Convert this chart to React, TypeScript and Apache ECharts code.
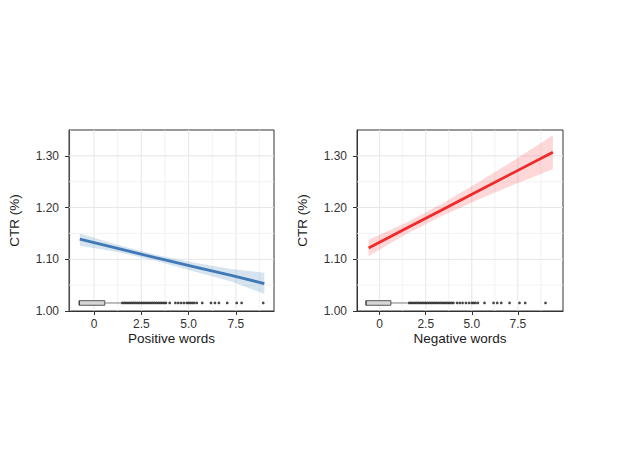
import React, { useEffect, useRef } from "react";
import * as echarts from "echarts";

// ---- Data ----
const posX = [-0.75, 1.25, 3.25, 5.25, 7.25, 9.0];
const posFit = [1.139, 1.121, 1.103, 1.086, 1.069, 1.053];
const posUpper = [1.150, 1.128, 1.109, 1.094, 1.081, 1.074];
const posLower = [1.126, 1.114, 1.097, 1.077, 1.057, 1.033];

const negX = [-0.6, 1.4, 3.4, 5.4, 7.4, 9.4];
const negFit = [1.122, 1.159, 1.196, 1.233, 1.270, 1.307];
const negUpper = [1.138, 1.170, 1.208, 1.250, 1.294, 1.340];
const negLower = [1.106, 1.148, 1.184, 1.216, 1.246, 1.274];

// boxplot summaries: [min, q1, median, q3, upper whisker]
const posBox = [-0.78, -0.78, -0.78, 0.57, 1.46];
const negBox = [-0.74, -0.74, -0.74, 0.61, 1.52];

const posOutliers = [
  1.5, 1.6, 1.7, 1.8, 1.9, 2.0, 2.1, 2.2, 2.3, 2.4, 2.5, 2.6, 2.7, 2.8, 2.9, 3.0,
  3.1, 3.2, 3.3, 3.4, 3.5, 3.6, 3.7, 3.8, 4.0, 4.3, 4.45, 4.6, 4.75, 4.9, 5.0,
  5.1, 5.2, 5.3, 5.43, 5.72, 6.18, 6.39, 6.6, 7.04, 7.54, 7.8, 8.94,
];
const negOutliers = [
  1.6, 1.7, 1.8, 1.9, 2.0, 2.1, 2.2, 2.3, 2.4, 2.5, 2.6, 2.7, 2.8, 2.9, 3.0, 3.1,
  3.2, 3.3, 3.4, 3.5, 3.6, 3.7, 3.8, 3.9, 4.0, 4.2, 4.35, 4.5, 4.68, 4.85, 5.0,
  5.1, 5.2, 5.33, 5.69, 6.18, 6.38, 6.6, 7.05, 7.59, 7.9, 9.0,
];
const boxY = 1.0155;

const xTickValues = [0, 2.5, 5, 7.5];
const yTickValues = [1.0, 1.1, 1.2, 1.3];
const xGridValues = [-1.25, 0, 1.25, 2.5, 3.75, 5, 6.25, 7.5, 8.75];
const yGridValues = [1.05, 1.1, 1.15, 1.2, 1.25, 1.3];

const posRange = [-1.32, 9.51];
const negRange = [-1.23, 9.95];
const yRange = [1.0, 1.35];

const xNames = ["Positive words", "Negative words"];
const yName = "CTR (%)";

const FONT = "'Liberation Sans', Arial, sans-serif";

function panel(idx: number, xs: number[], fit: number[], up: number[], lo: number[], box: number[], outl: number[], range: number[], color: string, band: string) {
  const base = { xAxisIndex: idx, yAxisIndex: idx };
  const vGrid = xGridValues.filter((v) => v > range[0] && v < range[1]);
  return [
    {
      ...base,
      type: "custom",
      z: 1,
      silent: true,
      data: vGrid.map((v) => [v]),
      renderItem: (params: any, api: any) => {
        const cs = params.coordSys;
        const x = api.coord([api.value(0), yRange[0]])[0];
        const major = xTickValues.indexOf(api.value(0)) >= 0;
        return {
          type: "line",
          shape: { x1: x, y1: cs.y, x2: x, y2: cs.y + cs.height },
          style: { stroke: major ? "#e6e6e6" : "#efefef", lineWidth: major ? 1 : 0.8 },
        };
      },
    },
    {
      ...base,
      type: "custom",
      z: 1,
      silent: true,
      data: yGridValues.map((v) => [v]),
      renderItem: (params: any, api: any) => {
        const cs = params.coordSys;
        const y = api.coord([range[0], api.value(0)])[1];
        const major = yTickValues.some((t) => Math.abs(t - api.value(0)) < 1e-6);
        return {
          type: "line",
          shape: { x1: cs.x, y1: y, x2: cs.x + cs.width, y2: y },
          style: { stroke: major ? "#e6e6e6" : "#efefef", lineWidth: major ? 1 : 0.8 },
        };
      },
    },
    {
      ...base,
      type: "custom",
      z: 2,
      silent: true,
      data: [[0]],
      renderItem: (params: any, api: any) => {
        const pts: number[][] = [];
        xs.forEach((x, i) => pts.push(api.coord([x, up[i]])));
        for (let i = xs.length - 1; i >= 0; i--) pts.push(api.coord([xs[i], lo[i]]));
        return { type: "polygon", shape: { points: pts }, style: { fill: band } };
      },
    },
    {
      ...base,
      type: "line",
      z: 3,
      silent: true,
      showSymbol: false,
      data: xs.map((x, i) => [x, fit[i]]),
      lineStyle: { color, width: 2.8 },
      itemStyle: { color },
    },
    {
      ...base,
      type: "custom",
      z: 4,
      silent: true,
      data: [[0]],
      renderItem: (params: any, api: any) => {
        const p0 = api.coord([box[1], boxY]);
        const p1 = api.coord([box[3], boxY]);
        const pm = api.coord([box[2], boxY]);
        const pw = api.coord([box[4], boxY]);
        const pl = api.coord([box[0], boxY]);
        const h = 4.6;
        return {
          type: "group",
          children: [
            { type: "line", shape: { x1: p1[0], y1: p1[1], x2: pw[0], y2: pw[1] }, style: { stroke: "#555", lineWidth: 0.8 } },
            { type: "line", shape: { x1: pl[0], y1: pl[1], x2: p0[0], y2: p0[1] }, style: { stroke: "#555", lineWidth: 0.8 } },
            { type: "rect", shape: { x: p0[0], y: p0[1] - h / 2, width: p1[0] - p0[0], height: h }, style: { fill: "#d6d6d6", stroke: "#333", lineWidth: 0.8 } },
            { type: "line", shape: { x1: pm[0], y1: pm[1] - h / 2, x2: pm[0], y2: pm[1] + h / 2 }, style: { stroke: "#333", lineWidth: 1 } },
          ],
        };
      },
    },
    {
      ...base,
      type: "scatter",
      z: 4,
      silent: true,
      symbol: "circle",
      symbolSize: 2.7,
      itemStyle: { color: "#1a1a1a" },
      data: outl.map((x) => [x, boxY]),
    },
  ];
}

function xAxis(idx: number, range: number[]) {
  return {
    type: "value",
    gridIndex: idx,
    min: range[0],
    max: range[1],
    name: xNames[idx],
    nameLocation: "middle",
    nameGap: 20,
    nameTextStyle: { fontFamily: FONT, fontSize: 13.5, color: "#1a1a1a" },
    axisLine: { show: true, onZero: false, lineStyle: { color: "#333", width: 1 } },
    axisTick: { show: true, length: 4, customValues: xTickValues, lineStyle: { color: "#333" } },
    axisLabel: {
      customValues: xTickValues,
      margin: 7,
      fontFamily: FONT,
      fontSize: 12,
      color: "#333",
      formatter: (v: number) => (v === 0 ? "0" : v.toFixed(1)),
    },
    splitLine: { show: false },
  };
}

function yAxis(idx: number) {
  return {
    type: "value",
    gridIndex: idx,
    min: yRange[0],
    max: yRange[1],
    name: yName,
    nameLocation: "middle",
    nameGap: 48,
    nameTextStyle: { fontFamily: FONT, fontSize: 13.5, color: "#1a1a1a" },
    axisLine: { show: true, onZero: false, lineStyle: { color: "#333", width: 1 } },
    axisTick: { show: true, length: 4, customValues: yTickValues, lineStyle: { color: "#333" } },
    axisLabel: {
      customValues: yTickValues,
      margin: 10,
      fontFamily: FONT,
      fontSize: 12,
      color: "#333",
      formatter: (v: number) => v.toFixed(2),
    },
    splitLine: { show: false },
  };
}

export default function App() {
  const ref = useRef<HTMLDivElement>(null);
  useEffect(() => {
    if (!ref.current) return;
    const chart = echarts.init(ref.current, null, { renderer: "svg" });
    chart.setOption({
      animation: false,
      backgroundColor: "#fff",
      grid: [
        { left: 69, top: 130, width: 205, height: 181, show: true, borderColor: "#333", borderWidth: 1, backgroundColor: "transparent" },
        { left: 357, top: 130, width: 206, height: 181, show: true, borderColor: "#333", borderWidth: 1, backgroundColor: "transparent" },
      ],
      xAxis: [xAxis(0, posRange), xAxis(1, negRange)],
      yAxis: [yAxis(0), yAxis(1)],
      series: [
        ...panel(0, posX, posFit, posUpper, posLower, posBox, posOutliers, posRange, "#4079b5", "rgba(70,130,180,0.22)"),
        ...panel(1, negX, negFit, negUpper, negLower, negBox, negOutliers, negRange, "#ee2a2a", "rgba(250,60,60,0.2)"),
      ],
    });
    return () => chart.dispose();
  }, []);
  return (
    <div
      ref={ref}
      style={{ position: "absolute", left: 0, top: 0, width: 630, height: 468, background: "#fff" }}
    />
  );
}
